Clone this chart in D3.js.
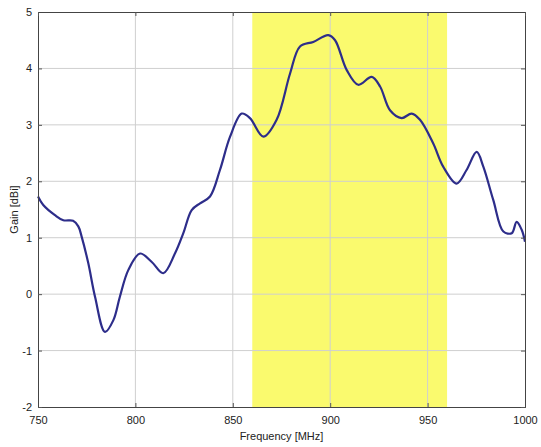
<!DOCTYPE html>
<html>
<head>
<meta charset="utf-8">
<script src="https://cdn.jsdelivr.net/npm/d3@7"></script>
<style>
  body { margin: 0; background: #fff; }
  text { font-family: "Liberation Sans", Arial, sans-serif; fill: #222; }
</style>
</head>
<body>
<script>
// data
var freq = [750, 752.7, 758.7, 763, 768, 770.7, 772.4, 775.8, 779.3, 784.4, 788.7, 792, 796.4, 802.4, 808.4, 814.3,
            820.3, 824.6, 828.9, 833.2, 838.3, 843.4, 848.6, 854.6, 858.8, 865.7, 872.5, 879.4, 884.5, 891.3, 899,
            902.5, 908.5, 914.4, 921.3, 925.6, 930.7, 936.7, 941.8, 946.1, 952.9, 958, 964.9, 970, 975.2, 978.6,
            983.7, 988.9, 993.2, 995.7, 998.3, 1000];
var gain = [1.73, 1.58, 1.40, 1.31, 1.30, 1.20, 1.02, 0.55, -0.05, -0.67, -0.46, -0.05, 0.43, 0.72, 0.57, 0.37,
            0.72, 1.08, 1.49, 1.61, 1.73, 2.20, 2.79, 3.20, 3.12, 2.79, 3.09, 3.91, 4.39, 4.47, 4.59,
            4.50, 3.97, 3.71, 3.85, 3.68, 3.26, 3.12, 3.20, 3.09, 2.67, 2.26, 1.96, 2.20, 2.52, 2.26,
            1.67, 1.11, 1.08, 1.28, 1.14, 0.93];
var band = [860, 960];
var xTicks = [750, 800, 850, 900, 950, 1000];
var yTicks = [-2, -1, 0, 1, 2, 3, 4, 5];

var margin = { top: 12, right: 16, bottom: 40, left: 38 },
    width = 541 - margin.left - margin.right,
    height = 447 - margin.top - margin.bottom;

var x = d3.scaleLinear().domain([750, 1000]).range([0, width]);
var y = d3.scaleLinear().domain([-2, 5]).range([height, 0]);

var svg = d3.select("body").append("svg")
    .attr("width", 541)
    .attr("height", 447)
    .append("g")
    .attr("transform", "translate(" + margin.left + "," + margin.top + ")");

// highlighted band
svg.append("rect")
    .attr("x", x(band[0]))
    .attr("y", 0)
    .attr("width", x(band[1]) - x(band[0]))
    .attr("height", height)
    .attr("fill", "#fafa6e");

// grid
svg.append("g").selectAll("line").data(xTicks.slice(1, -1)).enter().append("line")
    .attr("x1", d => x(d)).attr("x2", d => x(d))
    .attr("y1", 0).attr("y2", height)
    .attr("stroke", "#cfcfcf").attr("stroke-width", 1);
svg.append("g").selectAll("line").data(yTicks.slice(1, -1)).enter().append("line")
    .attr("y1", d => y(d)).attr("y2", d => y(d))
    .attr("x1", 0).attr("x2", width)
    .attr("stroke", "#cfcfcf").attr("stroke-width", 1);

// curve
var line = d3.line()
    .x(function (d, i) { return x(freq[i]); })
    .y(function (d) { return y(d); })
    .curve(d3.curveCatmullRom.alpha(0.5));

svg.append("path")
    .datum(gain)
    .attr("fill", "none")
    .attr("stroke", "#2d2d8a")
    .attr("stroke-width", 2.2)
    .attr("d", line);

// axes (inward ticks, box)
var fmt = function (d) { return String(d); };
var xAxis = d3.axisBottom(x).tickValues(xTicks).tickSize(-4).tickPadding(9).tickFormat(fmt);
var yAxis = d3.axisLeft(y).tickValues(yTicks).tickSize(-4).tickPadding(6).tickFormat(fmt);

svg.append("g").attr("transform", "translate(0," + height + ")").call(xAxis);
svg.append("g").call(yAxis);
svg.append("g").attr("transform", "translate(" + width + ",0)")
    .call(d3.axisRight(y).tickValues(yTicks).tickSize(-4).tickFormat(""));
svg.append("g")
    .call(d3.axisTop(x).tickValues(xTicks).tickSize(-4).tickFormat(""));

svg.selectAll(".domain").attr("stroke", "#444");
svg.selectAll(".tick line").attr("stroke", "#555");
svg.selectAll(".tick text").style("font-size", "11px").attr("fill", "#222");

svg.append("text")
    .attr("x", width / 2)
    .attr("y", height + 33)
    .attr("text-anchor", "middle")
    .style("font-size", "11px")
    .text("Frequency [MHz]");

svg.append("text")
    .attr("transform", "rotate(-90)")
    .attr("x", -height / 2)
    .attr("y", -20)
    .attr("text-anchor", "middle")
    .style("font-size", "11px")
    .text("Gain [dBi]");
</script>
</body>
</html>
